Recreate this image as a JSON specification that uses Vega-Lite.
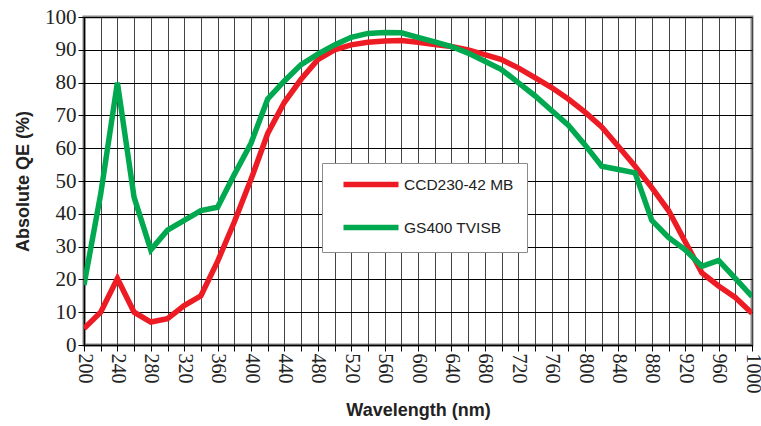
{
  "$schema": "https://vega.github.io/schema/vega-lite/v6.json",
  "width": 668,
  "height": 328,
  "autosize": "none",
  "padding": {"left": 84, "top": 17, "right": 9, "bottom": 81},
  "background": "white",
  "config": {
    "view": {"stroke": "#8a8a8a", "strokeWidth": 3},
    "axis": {
      "labelFont": "Liberation Serif",
      "labelColor": "#222",
      "titleFont": "Liberation Sans",
      "titleFontWeight": "bold",
      "titleFontSize": 18,
      "titleColor": "#222",
      "domainColor": "#000",
      "domainWidth": 1.5,
      "tickColor": "#000",
      "tickWidth": 1,
      "tickSize": 6
    }
  },
  "data": {
    "values": [
      {"wl": 200, "qe": 5, "s": "CCD230-42 MB"},
      {"wl": 220, "qe": 10, "s": "CCD230-42 MB"},
      {"wl": 240, "qe": 20.3, "s": "CCD230-42 MB"},
      {"wl": 260, "qe": 10, "s": "CCD230-42 MB"},
      {"wl": 280, "qe": 7, "s": "CCD230-42 MB"},
      {"wl": 300, "qe": 8, "s": "CCD230-42 MB"},
      {"wl": 320, "qe": 12, "s": "CCD230-42 MB"},
      {"wl": 340, "qe": 15, "s": "CCD230-42 MB"},
      {"wl": 360, "qe": 25.5, "s": "CCD230-42 MB"},
      {"wl": 380, "qe": 37.5, "s": "CCD230-42 MB"},
      {"wl": 400, "qe": 50.5, "s": "CCD230-42 MB"},
      {"wl": 420, "qe": 64.5, "s": "CCD230-42 MB"},
      {"wl": 440, "qe": 74, "s": "CCD230-42 MB"},
      {"wl": 460, "qe": 81, "s": "CCD230-42 MB"},
      {"wl": 480, "qe": 87, "s": "CCD230-42 MB"},
      {"wl": 500, "qe": 90, "s": "CCD230-42 MB"},
      {"wl": 520, "qe": 91.5, "s": "CCD230-42 MB"},
      {"wl": 540, "qe": 92.3, "s": "CCD230-42 MB"},
      {"wl": 560, "qe": 92.7, "s": "CCD230-42 MB"},
      {"wl": 580, "qe": 92.8, "s": "CCD230-42 MB"},
      {"wl": 600, "qe": 92.3, "s": "CCD230-42 MB"},
      {"wl": 620, "qe": 91.6, "s": "CCD230-42 MB"},
      {"wl": 640, "qe": 91, "s": "CCD230-42 MB"},
      {"wl": 660, "qe": 90, "s": "CCD230-42 MB"},
      {"wl": 680, "qe": 88.5, "s": "CCD230-42 MB"},
      {"wl": 700, "qe": 87, "s": "CCD230-42 MB"},
      {"wl": 720, "qe": 84.5, "s": "CCD230-42 MB"},
      {"wl": 740, "qe": 81.5, "s": "CCD230-42 MB"},
      {"wl": 760, "qe": 78.5, "s": "CCD230-42 MB"},
      {"wl": 780, "qe": 75, "s": "CCD230-42 MB"},
      {"wl": 800, "qe": 71, "s": "CCD230-42 MB"},
      {"wl": 820, "qe": 66.5, "s": "CCD230-42 MB"},
      {"wl": 840, "qe": 60.5, "s": "CCD230-42 MB"},
      {"wl": 860, "qe": 54.5, "s": "CCD230-42 MB"},
      {"wl": 880, "qe": 48, "s": "CCD230-42 MB"},
      {"wl": 900, "qe": 41, "s": "CCD230-42 MB"},
      {"wl": 920, "qe": 31.5, "s": "CCD230-42 MB"},
      {"wl": 940, "qe": 22, "s": "CCD230-42 MB"},
      {"wl": 960, "qe": 18, "s": "CCD230-42 MB"},
      {"wl": 980, "qe": 14.5, "s": "CCD230-42 MB"},
      {"wl": 1000, "qe": 9.7, "s": "CCD230-42 MB"},
      {"wl": 200, "qe": 18.3, "s": "GS400 TVISB"},
      {"wl": 220, "qe": 46, "s": "GS400 TVISB"},
      {"wl": 240, "qe": 80, "s": "GS400 TVISB"},
      {"wl": 260, "qe": 45, "s": "GS400 TVISB"},
      {"wl": 280, "qe": 29, "s": "GS400 TVISB"},
      {"wl": 300, "qe": 35, "s": "GS400 TVISB"},
      {"wl": 320, "qe": 38, "s": "GS400 TVISB"},
      {"wl": 340, "qe": 41, "s": "GS400 TVISB"},
      {"wl": 360, "qe": 42, "s": "GS400 TVISB"},
      {"wl": 380, "qe": 52, "s": "GS400 TVISB"},
      {"wl": 400, "qe": 61.5, "s": "GS400 TVISB"},
      {"wl": 420, "qe": 75, "s": "GS400 TVISB"},
      {"wl": 440, "qe": 80.5, "s": "GS400 TVISB"},
      {"wl": 460, "qe": 85.5, "s": "GS400 TVISB"},
      {"wl": 480, "qe": 88.7, "s": "GS400 TVISB"},
      {"wl": 500, "qe": 91.5, "s": "GS400 TVISB"},
      {"wl": 520, "qe": 93.8, "s": "GS400 TVISB"},
      {"wl": 540, "qe": 95, "s": "GS400 TVISB"},
      {"wl": 560, "qe": 95.3, "s": "GS400 TVISB"},
      {"wl": 580, "qe": 95.2, "s": "GS400 TVISB"},
      {"wl": 600, "qe": 93.8, "s": "GS400 TVISB"},
      {"wl": 620, "qe": 92.4, "s": "GS400 TVISB"},
      {"wl": 640, "qe": 91, "s": "GS400 TVISB"},
      {"wl": 660, "qe": 89, "s": "GS400 TVISB"},
      {"wl": 680, "qe": 86.5, "s": "GS400 TVISB"},
      {"wl": 700, "qe": 84, "s": "GS400 TVISB"},
      {"wl": 720, "qe": 80, "s": "GS400 TVISB"},
      {"wl": 740, "qe": 76, "s": "GS400 TVISB"},
      {"wl": 760, "qe": 71.5, "s": "GS400 TVISB"},
      {"wl": 780, "qe": 67, "s": "GS400 TVISB"},
      {"wl": 800, "qe": 61, "s": "GS400 TVISB"},
      {"wl": 820, "qe": 54.5, "s": "GS400 TVISB"},
      {"wl": 840, "qe": 53.5, "s": "GS400 TVISB"},
      {"wl": 860, "qe": 52.5, "s": "GS400 TVISB"},
      {"wl": 880, "qe": 38, "s": "GS400 TVISB"},
      {"wl": 900, "qe": 32.8, "s": "GS400 TVISB"},
      {"wl": 920, "qe": 29, "s": "GS400 TVISB"},
      {"wl": 940, "qe": 24, "s": "GS400 TVISB"},
      {"wl": 960, "qe": 25.8, "s": "GS400 TVISB"},
      {"wl": 980, "qe": 20.3, "s": "GS400 TVISB"},
      {"wl": 1000, "qe": 14.8, "s": "GS400 TVISB"}
    ]
  },
  "mark": {"type": "line", "strokeWidth": 5.5, "strokeJoin": "miter", "strokeCap": "butt", "clip": true},
  "encoding": {
    "x": {
      "field": "wl", "type": "quantitative",
      "scale": {"domain": [200, 1000], "nice": false, "zero": false},
      "axis": {
        "title": "Wavelength (nm)",
        "values": [200,220,240,260,280,300,320,340,360,380,400,420,440,460,480,500,520,540,560,580,600,620,640,660,680,700,720,740,760,780,800,820,840,860,880,900,920,940,960,980,1000],
        "format": "d",
        "labelExpr": "datum.value % 40 == 0 ? datum.label : ''",
        "labelAngle": 90,
        "labelFontSize": 20,
        "labelPadding": 2,
        "labelOverlap": false,
        "labelFlush": false,
        "grid": true,
        "gridColor": "#444",
        "gridWidth": 1,
        "titlePadding": 8
      }
    },
    "y": {
      "field": "qe", "type": "quantitative",
      "scale": {"domain": [0, 100], "nice": false},
      "axis": {
        "title": "Absolute QE (%)",
        "values": [0,10,20,30,40,50,60,70,80,90,100],
        "labelFontSize": 21,
        "labelPadding": 2,
        "labelFlush": false,
        "grid": true,
        "gridColor": "#000",
        "gridWidth": 1,
        "titlePadding": 12
      }
    },
    "color": {
      "field": "s", "type": "nominal",
      "scale": {"domain": ["CCD230-42 MB", "GS400 TVISB"], "range": ["#ed1c24", "#00a94f"]},
      "legend": {
        "title": null,
        "orient": "none",
        "legendX": 238,
        "legendY": 146,
        "symbolType": "M0,0H10",
        "symbolSize": 121,
        "symbolStrokeWidth": 5.5,
        "labelFont": "Liberation Sans",
        "labelFontSize": 15.5,
        "labelColor": "#222",
        "labelOffset": 52,
        "rowPadding": 20,
        "padding": 13,
        "strokeColor": "#8a8a8a",
        "fillColor": "white"
      }
    }
  }
}
